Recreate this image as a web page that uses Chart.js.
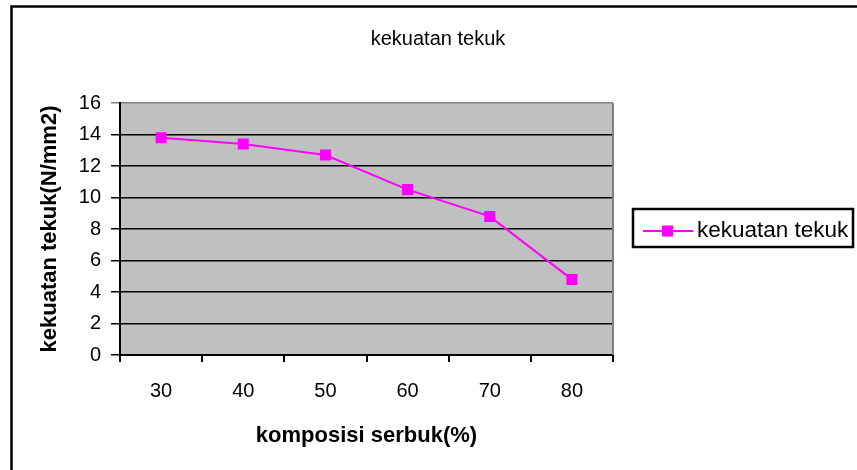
<!DOCTYPE html>
<html>
<head>
<meta charset="utf-8">
<script src="https://cdn.jsdelivr.net/npm/chart.js@4"></script>
<style>
  body { margin: 0; background: #fff; }
  #wrap { width: 857px; height: 470px; }
</style>
</head>
<body>
<div id="wrap"><canvas id="chart" width="857" height="470"></canvas></div>
<script>
// data
const categories = ['30', '40', '50', '60', '70', '80'];
const strengthValues = [13.8, 13.4, 12.7, 10.5, 8.8, 4.8];
const seriesName = 'kekuatan tekuk';
const chartTitle = 'kekuatan tekuk';
const xTitle = 'komposisi serbuk(%)';
const yTitle = 'kekuatan tekuk(N/mm2)';

const FONT = "'Liberation Sans', Arial, sans-serif";
const MAGENTA = '#FF00FF';

// Excel style frame, grey plot area, title and boxed legend
const excelFrame = {
    id: 'excelFrame',
    beforeDraw(chart) {
        const ctx = chart.ctx;
        const a = chart.chartArea;
        ctx.save();
        ctx.fillStyle = '#fff';
        ctx.fillRect(0, 0, chart.width, chart.height);
        // outer border (only top and left are visible)
        ctx.strokeStyle = '#000';
        ctx.lineWidth = 2.5;
        ctx.strokeRect(11.5, 6.5, 900, 600);
        // plot background
        ctx.fillStyle = '#C0C0C0';
        ctx.fillRect(a.left, a.top, a.right - a.left, a.bottom - a.top);
        // title
        ctx.fillStyle = '#000';
        ctx.font = '20px ' + FONT;
        ctx.textAlign = 'center';
        ctx.textBaseline = 'middle';
        ctx.fillText(chartTitle, 438, 39);
        ctx.restore();
    },
    beforeDatasetsDraw(chart) {
        const ctx = chart.ctx;
        const a = chart.chartArea;
        ctx.save();
        ctx.strokeStyle = '#808080';
        ctx.lineWidth = 2;
        ctx.beginPath();
        ctx.moveTo(a.right, a.top);
        ctx.lineTo(a.right, a.bottom);
        ctx.stroke();
        ctx.restore();
    },
    afterDraw(chart) {
        const ctx = chart.ctx;
        ctx.save();
        // legend box
        ctx.strokeStyle = '#000';
        ctx.lineWidth = 2.5;
        ctx.strokeRect(633, 209, 220, 38);
        const ly = 231;
        ctx.strokeStyle = MAGENTA;
        ctx.lineWidth = 2;
        ctx.beginPath();
        ctx.moveTo(643, ly);
        ctx.lineTo(693, ly);
        ctx.stroke();
        ctx.fillStyle = MAGENTA;
        ctx.fillRect(662, ly - 5.5, 11, 11);
        ctx.fillStyle = '#000';
        ctx.font = '22.5px ' + FONT;
        ctx.textAlign = 'left';
        ctx.textBaseline = 'middle';
        ctx.fillText(seriesName, 697, ly);
        ctx.restore();
    }
};

new Chart(document.getElementById('chart'), {
    type: 'line',
    data: {
        labels: categories,
        datasets: [{
            label: seriesName,
            data: strengthValues,
            borderColor: MAGENTA,
            backgroundColor: MAGENTA,
            borderWidth: 2,
            pointStyle: 'rect',
            pointRadius: 7.8,
            pointBorderWidth: 0,
            pointHoverRadius: 7.8,
            tension: 0
        }]
    },
    options: {
        responsive: false,
        animation: false,
        layout: { padding: { left: 0, top: 103, right: 244, bottom: 0 } },
        plugins: {
            legend: { display: false },
            title: { display: false },
            tooltip: { enabled: false }
        },
        scales: {
            x: {
                offset: true,
                afterFit: s => { s.height = 115; },
                grid: {
                    offset: true,
                    drawOnChartArea: false,
                    drawTicks: true,
                    tickLength: 7,
                    color: '#000',
                    lineWidth: 2
                },
                border: { color: '#000', width: 2 },
                ticks: {
                    color: '#000',
                    font: { family: FONT, size: 20 },
                    padding: 17,
                    maxRotation: 0
                },
                title: {
                    display: true,
                    text: xTitle,
                    color: '#000',
                    font: { family: FONT, size: 22, weight: 'bold' },
                    padding: { top: 0, bottom: 21 }
                }
            },
            y: {
                min: 0,
                max: 16,
                afterFit: s => { s.width = 120; },
                grid: {
                    drawTicks: true,
                    tickLength: 9,
                    color: ctx => ctx.tick && ctx.tick.value === 16 ? '#808080' : '#000',
                    lineWidth: 1.5
                },
                border: { color: '#000', width: 2 },
                ticks: {
                    stepSize: 2,
                    color: '#000',
                    font: { family: FONT, size: 20 },
                    padding: 10
                },
                title: {
                    display: true,
                    text: yTitle,
                    color: '#000',
                    font: { family: FONT, size: 22, weight: 'bold' },
                    padding: { top: 37, bottom: 0 }
                }
            }
        }
    },
    plugins: [excelFrame]
});
</script>
</body>
</html>
